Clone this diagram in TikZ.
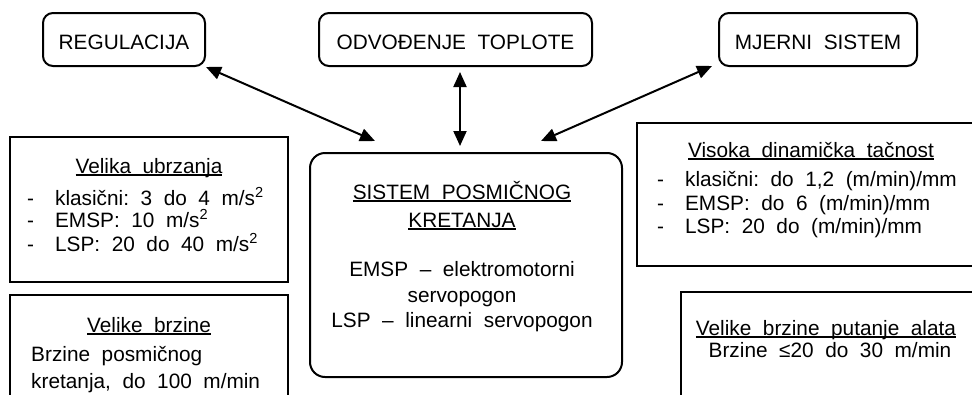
\documentclass[tikz,border=0pt]{standalone}
\usepackage{fontspec}
\setmainfont{Liberation Sans}
\usetikzlibrary{arrows.meta}

% text size used throughout
\newcommand\fsz{\fontsize{20.8}{24}\selectfont}
% underline drawn just below the baseline, through descenders
\newcommand\ulined[1]{\setbox0\hbox{#1}\rlap{\rule[-2.6pt]{\wd0}{1.2pt}}\box0}
% gap after a list dash
\newcommand\dashgap{-\hspace{21pt}}

\begin{document}
\begin{tikzpicture}[x=1pt,y=-1pt,
  frame/.style={draw, line width=2pt},
  topbox/.style={frame, rounded corners=10pt, inner sep=0pt,
    text height=19pt, text depth=0pt, font=\fsz, minimum height=53pt},
  plainbox/.style={frame, inner sep=0pt},
  txt/.style={inner sep=0pt, font=\fsz},
  arr/.style={{Triangle[length=15pt,width=13pt]}-{Triangle[length=15pt,width=13pt]},
    line width=2pt}]

\useasboundingbox (0,0) rectangle (972,394);
\clip (0,0) rectangle (972,394);

% top row
\node[topbox, minimum width=162pt] (reg) at (124,39.5) {REGULACIJA};
\node[topbox, minimum width=273pt] (odv) at (455.5,39.5) {ODVOĐENJE~~TOPLOTE};
\node[topbox, minimum width=198pt] (mje) at (818,39.5) {MJERNI~~SISTEM};

% central system
\node[frame, rounded corners=15pt, inner sep=0pt,
  minimum width=312pt, minimum height=224pt] (sys) at (466,265) {};
\node[txt, anchor=base] (sys1) at (462,199) {\ulined{SISTEM~~POSMIČNOG}};
\node[txt, anchor=base] (sys2) at (462,227) {\ulined{KRETANJA}};
\node[txt, anchor=base] (sys3) at (462,276) {EMSP~~–~~elektromotorni};
\node[txt, anchor=base] (sys4) at (462,302) {servopogon};
\node[txt, anchor=base] (sys5) at (462,327) {LSP~~–~~linearni~~servopogon};

% left column
\node[plainbox, minimum width=278pt, minimum height=145pt] (acc) at (149,209.5) {};
\node[txt, anchor=base] (acc0) at (149,173) {\ulined{Velika~~ubrzanja}};
\node[txt, anchor=base west] (acc1) at (27,205)
  {\dashgap klasični:~~3~~do~~4~~m/s\textsuperscript{2}};
\node[txt, anchor=base west] (acc2) at (27,227.5)
  {\dashgap EMSP:~~10~~m/s\textsuperscript{2}};
\node[txt, anchor=base west] (acc3) at (27,251)
  {\dashgap LSP:~~20~~do~~40~~m/s\textsuperscript{2}};

\node[plainbox, minimum width=278pt, minimum height=125pt] (spd) at (149,357.5) {};
\node[txt, anchor=base] (spd0) at (149,332) {\ulined{Velike~~brzine}};
\node[txt, anchor=base west] (spd1) at (31,361) {Brzine~~posmičnog};
\node[txt, anchor=base west] (spd2) at (31,388) {kretanja,~~do~~100~~m/min};

% right column
\node[plainbox, minimum width=363pt, minimum height=143pt] (dyn) at (818.5,194.5) {};
\node[txt, anchor=base] (dyn0) at (811,157) {\ulined{Visoka~~dinamička~~tačnost}};
\node[txt, anchor=base west] (dyn1) at (657,186)
  {\dashgap klasični:~~do~~1,2~~(m/min)/mm};
\node[txt, anchor=base west] (dyn2) at (657,210)
  {\dashgap EMSP:~~do~~6~~(m/min)/mm};
\node[txt, anchor=base west] (dyn3) at (657,233.5)
  {\dashgap LSP:~~20~~do~~(m/min)/mm};

\node[plainbox, minimum width=319pt, minimum height=128pt] (path) at (840.5,356) {};
\node[txt, anchor=base] (path0) at (826,335) {\ulined{Velike~~brzine~~putanje~~alata}};
\node[txt, anchor=base] (path1) at (830,357) {Brzine~~≤20~~do~~30~~m/min};

% connectors
\coordinate (regend) at (375,141);
\coordinate (odvtop) at (460,72);
\coordinate (odvend) at (460,146);
\coordinate (mjeend) at (541,141);
\coordinate (mjetip) at (712,66);
\draw[arr] (reg.south east) -- (regend);
\draw[arr] (odvtop) -- (odvend);
\draw[arr] (mjeend) -- (mjetip);
\end{tikzpicture}
\end{document}
